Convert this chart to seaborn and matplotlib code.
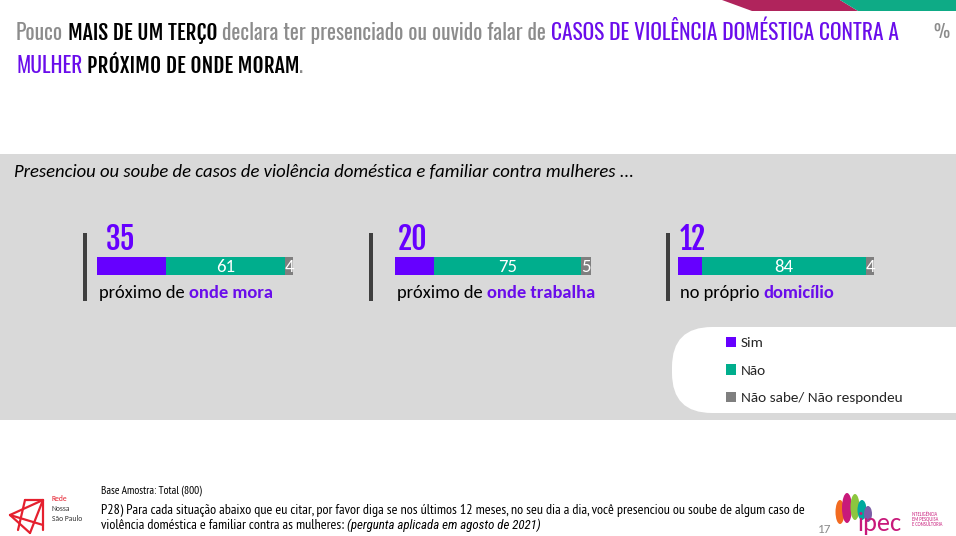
import numpy as np
import pandas as pd
import matplotlib
matplotlib.use("Agg")
import matplotlib.pyplot as plt
import seaborn as sns
import logging
logging.getLogger("matplotlib.font_manager").setLevel(logging.ERROR)
from matplotlib.patches import FancyBboxPatch, Polygon, Rectangle, Patch, Ellipse

# ---------------- data ----------------
categories = ["próximo de onde mora", "próximo de onde trabalha", "no próprio domicílio"]
label_plain = ["próximo de", "próximo de", "no próprio"]
label_bold = ["onde mora", "onde trabalha", "domicílio"]
sim = [35, 20, 12]
nao = [61, 75, 84]
nsnr = [4, 5, 4]
series_names = ["Sim", "Não", "Não sabe/ Não respondeu"]

subtitle = "Presenciou ou soube de casos de violência doméstica e familiar contra mulheres ..."
base_text = "Base Amostra: Total (800)"
footer_l1 = "P28) Para cada situação abaixo que eu citar, por favor diga se nos últimos 12 meses, no seu dia a dia, você presenciou ou soube de algum caso de"
footer_l2a = "violência doméstica e familiar contra as mulheres:"
footer_l2b = "(pergunta aplicada em agosto de 2021)"
page_num = "17"

# ---------------- style ----------------
sns.set_theme(style="white")
NARROW = ["Oswald", "Pathway Gothic One", "Roboto Condensed", "DejaVu Sans"]
NARROW_B = ["Fjalla One", "Oswald", "Roboto Condensed", "DejaVu Sans"]
FOOT = ["PT Sans Narrow", "Open Sans Condensed", "Roboto Condensed", "DejaVu Sans"]
FOOT_IT = ["Roboto Condensed", "Archivo Narrow", "DejaVu Sans"]
BODY = ["Carlito", "Lato", "DejaVu Sans"]
plt.rcParams["font.family"] = BODY

C_SIM = "#6600FF"
C_NAO = "#00AE8D"
C_NS = "#7F7F7F"
C_PURPLE = "#6A0DEB"
C_GRAYTXT = "#8C8C8C"
C_PANEL = "#D9D9D9"

W, H = 956, 536
fig = plt.figure(figsize=(W / 100, H / 100), dpi=100)
fig.patch.set_facecolor("white")
bg = fig.add_axes([0, 0, 1, 1])
bg.set_xlim(0, W)
bg.set_ylim(H, 0)
bg.axis("off")
renderer = fig.canvas.get_renderer()


def text_w(s, **kw):
    t = bg.text(0, 0, s, **kw)
    w = t.get_window_extent(renderer).width
    t.remove()
    return w


def seq_text(x, y, parts, size, style="normal"):
    """parts: list of (text, color, family, weight, space_before)"""
    for txt, color, fam, weight, sp in parts:
        kw = dict(fontsize=size, family=fam, fontweight=weight, fontstyle=style)
        if sp:
            x += text_w("x x", **kw) - text_w("xx", **kw)
        bg.text(x, y, txt, color=color, ha="left", va="baseline", **kw)
        x += text_w(txt, **kw)
    return x


def seq_width(parts, size, style="normal"):
    x = 0
    for txt, color, fam, weight, sp in parts:
        kw = dict(fontsize=size, family=fam, fontweight=weight, fontstyle=style)
        if sp:
            x += text_w("x x", **kw) - text_w("xx", **kw)
        x += text_w(txt, **kw)
    return x


def fit_size(parts, target, style="normal"):
    return 10 * target / seq_width(parts, 10, style)


# ---------------- decorations ----------------
bg.add_patch(Polygon([(722, 0), (840, 0), (858, 11), (752, 11)], closed=True,
                     facecolor="#B0245C", edgecolor="none"))
bg.add_patch(Polygon([(840, 0), (956, 0), (956, 11), (858, 11)], closed=True,
                     facecolor="#0EAB86", edgecolor="none"))
bg.add_patch(Rectangle((0, 154), W, 266, facecolor=C_PANEL, edgecolor="none"))
bg.add_patch(FancyBboxPatch((672, 327), 330, 86,
                            boxstyle="round,pad=0,rounding_size=40",
                            facecolor="white", edgecolor="none"))

# ---------------- title ----------------
t1 = [("Pouco", C_GRAYTXT, NARROW, "normal", False),
      ("MAIS DE UM TERÇO", "black", NARROW_B, "bold", True),
      ("declara ter presenciado ou ouvido falar de", C_GRAYTXT, NARROW, "normal", True),
      ("CASOS DE VIOLÊNCIA DOMÉSTICA CONTRA A", C_PURPLE, NARROW, "normal", True)]
t2 = [("MULHER", C_PURPLE, NARROW, "normal", False),
      ("PRÓXIMO DE ONDE MORAM", "black", NARROW_B, "bold", True),
      (".", C_GRAYTXT, NARROW, "normal", False)]
ts = fit_size(t1, 882)
seq_text(16, 40, t1, ts)
seq_text(16, 73, t2, ts)
bg.text(933, 38, "%", color=C_GRAYTXT, fontsize=ts * 0.85, family=NARROW, ha="left", va="baseline")

# ---------------- subtitle ----------------
sub_parts = [(subtitle, "black", BODY, "normal", False)]
ss = fit_size(sub_parts, 618, "italic")
seq_text(14, 177, sub_parts, ss, "italic")

# ---------------- bars ----------------
bar_left_px = [97, 395, 678]
bar_w_px = 196
bar_top, bar_bot = 257, 275
sep_x = [83, 369, 666]
num_dx = [9, 3, 2]
lab_size = fit_size([(label_plain[0], "k", BODY, "normal", False),
                     (label_bold[0], "k", BODY, "bold", True)], 174)

for i in range(len(categories)):
    ax = fig.add_axes([bar_left_px[i] / W, 1 - bar_bot / H, bar_w_px / W, (bar_bot - bar_top) / H])
    df = pd.DataFrame({"cat": [categories[i]],
                       "total": [sim[i] + nao[i] + nsnr[i]],
                       "sim_nao": [sim[i] + nao[i]],
                       "sim": [sim[i]]})
    sns.barplot(data=df, x="total", y="cat", orient="h", color=C_NS, width=1,
                saturation=1, linewidth=0, ax=ax)
    sns.barplot(data=df, x="sim_nao", y="cat", orient="h", color=C_NAO, width=1,
                saturation=1, linewidth=0, ax=ax)
    sns.barplot(data=df, x="sim", y="cat", orient="h", color=C_SIM, width=1,
                saturation=1, linewidth=0, ax=ax)
    ax.set_xlim(0, 100)
    ax.set_ylim(0.5, -0.5)
    ax.axis("off")
    ax.text(sim[i] + nao[i] / 2, 0.05, str(nao[i]), ha="center", va="center",
            color="white", fontsize=13.5, family=BODY)
    ax.text(sim[i] + nao[i] + nsnr[i] / 2, 0.05, str(nsnr[i]), ha="center", va="center",
            color="white", fontsize=13.5, family=BODY)
    # big number
    bg.text(bar_left_px[i] + num_dx[i], 250, str(sim[i]), color=C_SIM, fontsize=21.5,
            family=NARROW_B, fontweight="bold", ha="left", va="baseline")
    # separator line
    bg.add_patch(Rectangle((sep_x[i], 233), 4, 68, facecolor="#3F3F3F", edgecolor="none"))
    # label
    seq_text(bar_left_px[i] + 2, 298,
             [(label_plain[i], "black", BODY, "normal", False),
              (label_bold[i], C_PURPLE, BODY, "bold", True)], lab_size)

legend_handles = [Patch(facecolor=c, edgecolor="none") for c in (C_SIM, C_NAO, C_NS)]
fig.legend(legend_handles, series_names, loc="upper left",
           bbox_to_anchor=(726 / W, 1 - 337 / H), frameon=False,
           handlelength=0.65, handleheight=0.65, handletextpad=0.3,
           labelspacing=0.98, borderpad=0, borderaxespad=0, prop={"family": BODY, "size": 11})

# ---------------- footer ----------------
seq_text(101, 493, [(base_text, "black", FOOT, "normal", False)], 8.2)
fs = fit_size([(footer_l1, "k", FOOT, "normal", False)], 704)
seq_text(101, 514, [(footer_l1, "black", FOOT, "normal", False)], fs)
x2 = seq_text(101, 529, [(footer_l2a, "black", FOOT, "normal", False)], fs)
seq_text(x2, 529, [(footer_l2b, "black", FOOT_IT, "normal", True)], fs * 0.92, "italic")
bg.text(818, 533, page_num, color=C_GRAYTXT, fontsize=9.5, family=BODY, ha="left", va="baseline")

# Rede Nossa São Paulo logo (simplified)
red = "#E5202E"
for (x1, y1, x2_, y2) in [(25, 500, 43, 500), (43, 500, 10, 515), (10, 515, 30, 533),
                          (30, 533, 43, 500), (25, 500, 18, 530), (10, 515, 43, 525),
                          (43, 500, 43, 530)]:
    bg.plot([x1, x2_], [y1, y2], color=red, lw=1.6, solid_capstyle="round")
bg.text(52, 501, "Rede", color=red, fontsize=5.5, family=BODY, va="baseline")
bg.text(52, 511, "Nossa", color="#333333", fontsize=5.5, family=BODY, va="baseline")
bg.text(52, 521, "São Paulo", color="#333333", fontsize=5.5, family=BODY, va="baseline")

# ipec logo (simplified)
for cx, cy, w, h, c in [(840, 512, 9, 24, "#F26B21"), (847, 508, 10, 30, "#C8197A"),
                        (855, 507, 9, 26, "#8CC63F"), (862, 510, 9, 20, "#00A99D"),
                        (868, 514, 8, 16, "#7B5EA7")]:
    bg.add_patch(Ellipse((cx, cy), w, h, facecolor=c, edgecolor="none"))
bg.text(858, 531, "ipec", color="#C8197A", fontsize=19, family=BODY, va="baseline")
bg.text(912, 516, "INTELIGÊNCIA", color="#C8197A", fontsize=3.3, family=BODY, va="baseline")
bg.text(912, 521, "EM PESQUISA", color="#C8197A", fontsize=3.3, family=BODY, va="baseline")
bg.text(912, 526, "E CONSULTORIA", color="#C8197A", fontsize=3.3, family=BODY, va="baseline")

fig.savefig("out.png", dpi=100, facecolor="white")
